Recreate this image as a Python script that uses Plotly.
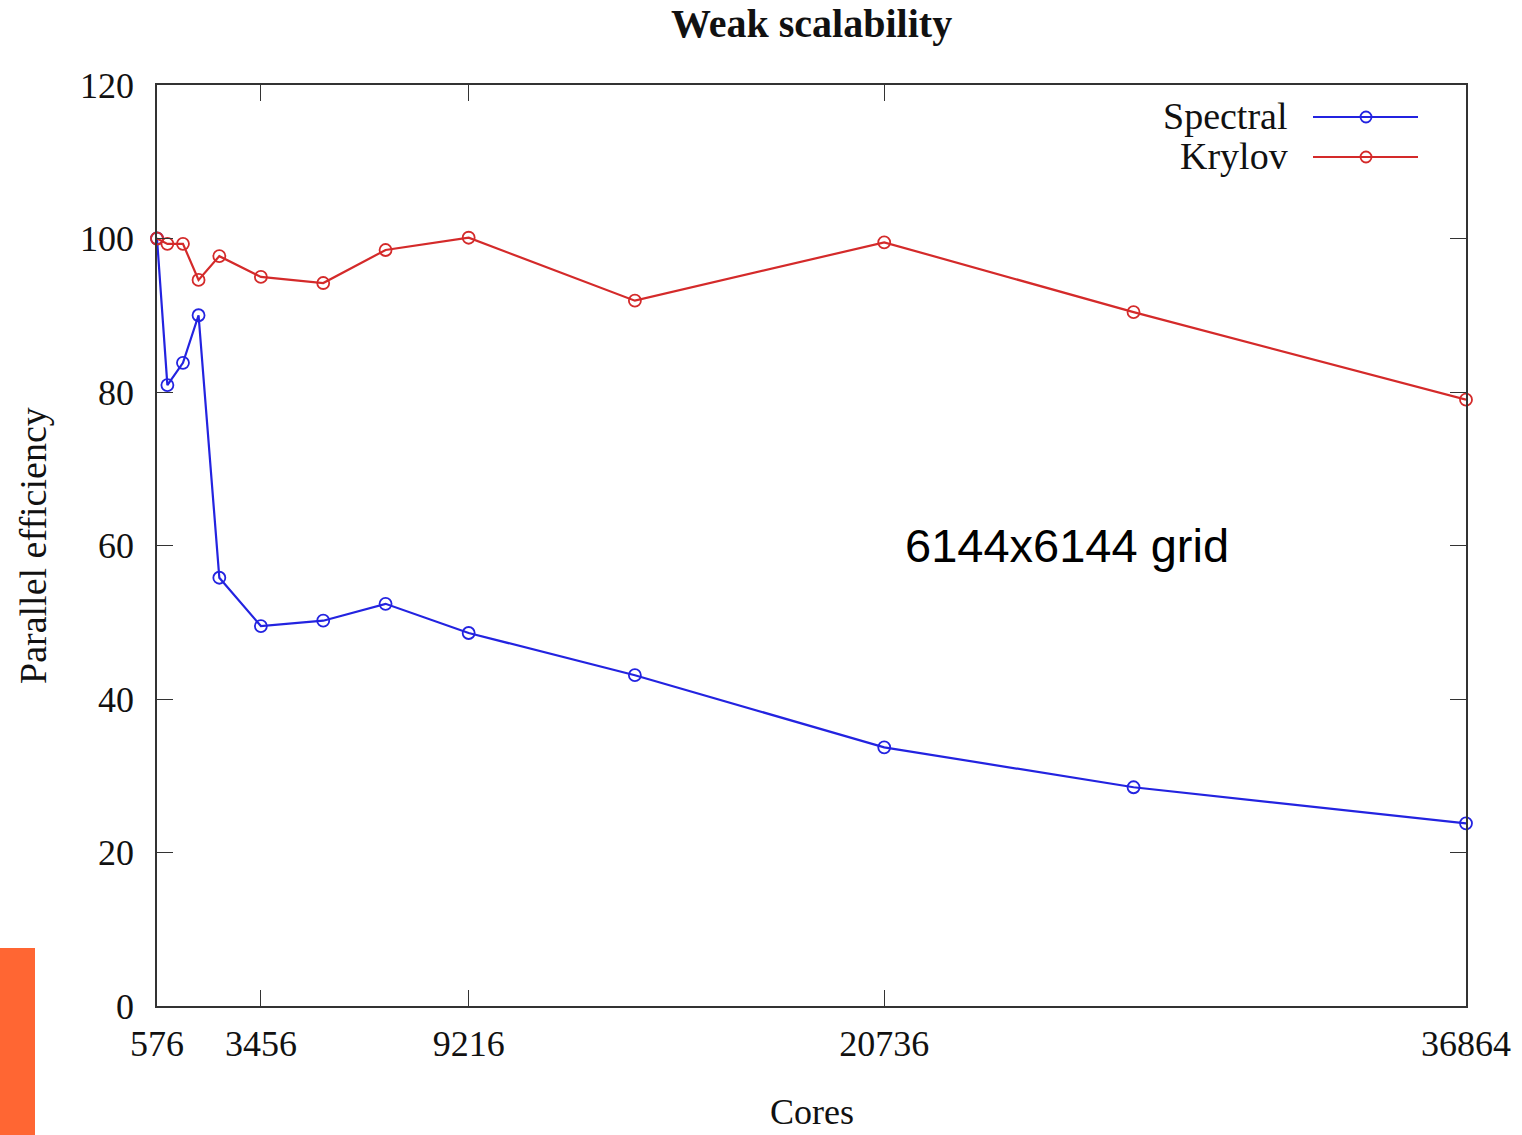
import plotly.graph_objects as go

# ---- data ----
cores = [576, 864, 1296, 1728, 2304, 3456, 5184, 6912, 9216, 13824, 20736, 27648, 36864]
spectral = [100.0, 80.9, 83.8, 90.0, 55.8, 49.5, 50.2, 52.4, 48.6, 43.1, 33.7, 28.5, 23.8]
krylov = [100.0, 99.3, 99.3, 94.6, 97.7, 95.0, 94.2, 98.5, 100.1, 91.9, 99.5, 90.4, 79.0]
x_ticks = [576, 3456, 9216, 20736, 36864]
y_ticks = [0, 20, 40, 60, 80, 100, 120]
series_names = ["Spectral", "Krylov"]

BLUE = "#2323e0"
RED = "#d42a2a"
SERIF = "Liberation Serif"
W, H = 1522, 1135
L, R, T, B = 157, 56, 85, 129
PW, PH = W - L - R, H - T - B


def px(xp):
    return (xp - L) / PW


def py(yp):
    return (H - B - yp) / PH


fig = go.Figure()
for name, vals, col in [(series_names[0], spectral, BLUE), (series_names[1], krylov, RED)]:
    fig.add_trace(go.Scatter(
        x=cores, y=vals, name=name, mode="lines+markers",
        line=dict(color=col, width=2.2),
        marker=dict(symbol="circle-open", size=12, color=col, line=dict(width=1.8, color=col)),
        cliponaxis=False, showlegend=False,
    ))

axis_common = dict(
    showgrid=False, zeroline=False, showline=True, mirror="allticks",
    linecolor="#333333", linewidth=1.5, ticks="inside", ticklen=16,
    tickwidth=1.2, tickcolor="#333333",
    tickfont=dict(family=SERIF, size=36, color="#111111"),
)

fig.update_xaxes(range=[cores[0], cores[-1]], tickvals=x_ticks,
                 ticktext=[str(v) for v in x_ticks], ticklabelstandoff=5, **axis_common)
fig.update_yaxes(range=[y_ticks[0], y_ticks[-1]], tickvals=y_ticks,
                 ticktext=[str(v) for v in y_ticks], ticklabelstandoff=14, **axis_common)

shapes = []
annotations = []

# legend (manual, gnuplot style: text right, sample to the right)
for i, (name, col) in enumerate([(series_names[0], BLUE), (series_names[1], RED)]):
    yp = 117 + 40 * i
    annotations.append(dict(
        x=px(1290), y=py(yp - 1), xref="paper", yref="paper", text=name,
        showarrow=False, xanchor="right", yanchor="middle",
        font=dict(family=SERIF, size=38, color="#111111")))
    shapes.append(dict(type="line", xref="paper", yref="paper",
                       x0=px(1313), x1=px(1418), y0=py(yp), y1=py(yp),
                       line=dict(color=col, width=2.2)))
    r = 5.5
    shapes.append(dict(type="circle", xref="paper", yref="paper",
                       x0=px(1366 - r), x1=px(1366 + r), y0=py(yp + r), y1=py(yp - r),
                       line=dict(color=col, width=1.8)))

# title
annotations.append(dict(x=0.5, y=py(24), xref="paper", yref="paper",
                        text="<b>Weak scalability</b>", showarrow=False,
                        xanchor="center", yanchor="middle",
                        font=dict(family=SERIF, size=40, color="#111111")))
# axis titles
annotations.append(dict(x=0.5, y=py(1112), xref="paper", yref="paper", text="Cores",
                        showarrow=False, xanchor="center", yanchor="middle",
                        font=dict(family=SERIF, size=36, color="#111111")))
annotations.append(dict(x=px(33), y=py(546), xref="paper", yref="paper",
                        text="Parallel efficiency", textangle=-90,
                        showarrow=False, xanchor="center", yanchor="middle",
                        font=dict(family=SERIF, size=38, color="#111111")))
# grid note
annotations.append(dict(x=px(1067), y=py(545), xref="paper", yref="paper",
                        text="6144x6144 grid", showarrow=False,
                        xanchor="center", yanchor="middle",
                        font=dict(family="Liberation Sans", size=47, color="#000000")))

# orange slide decoration at lower left
shapes.append(dict(type="rect", xref="paper", yref="paper",
                   x0=px(0), x1=px(35), y0=py(1135), y1=py(948),
                   fillcolor="#ff6633", line=dict(width=0), layer="above"))

fig.update_layout(
    width=W, height=H,
    margin=dict(l=L, r=R, t=T, b=B),
    paper_bgcolor="white", plot_bgcolor="white",
    shapes=shapes, annotations=annotations,
    showlegend=False,
)

fig.write_html("out.html")
